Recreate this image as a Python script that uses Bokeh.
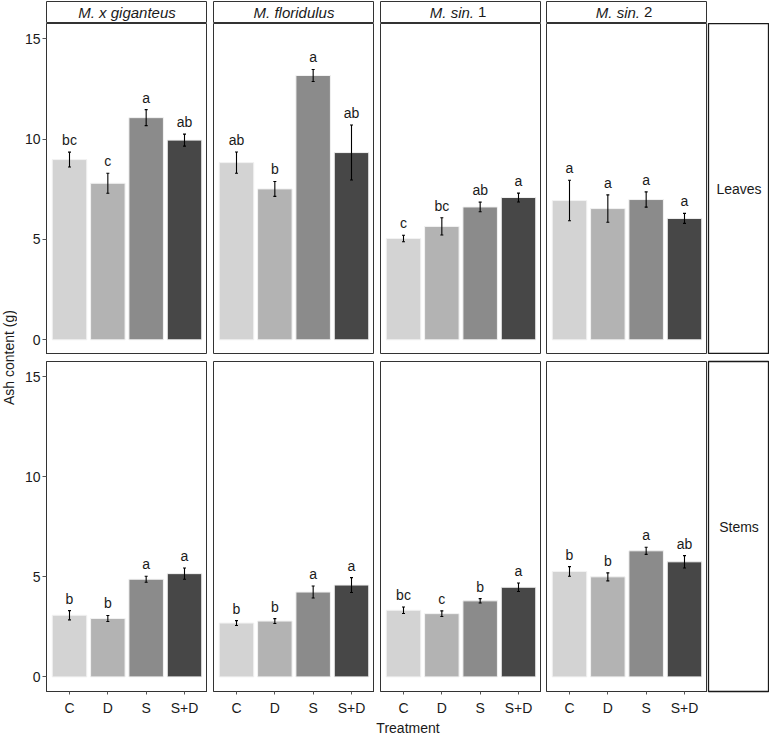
import math
from bokeh.plotting import figure
from bokeh.models import (ColumnDataSource, FactorRange, Range1d, FixedTicker,
                          Whisker, TeeHead, GridBox, Label)
from bokeh.core.properties import value
from bokeh.embed import file_html
from bokeh.resources import INLINE

# ---------------- data ----------------
treatments = ["C", "D", "S", "S+D"]
species = ["M. x giganteus", "M. floridulus", "M. sin. 1", "M. sin. 2"]
organs = ["Leaves", "Stems"]
bar_colors = ["#d3d3d3", "#b3b3b3", "#8b8b8b", "#474747"]
y_ticks = [0, 5, 10, 15]

leaves_mxg = [8.98, 7.80, 11.07, 9.95]
leaves_mxg_se = [0.37, 0.50, 0.40, 0.30]
leaves_mxg_letters = ["bc", "c", "a", "ab"]

leaves_mflor = [8.83, 7.52, 13.17, 9.33]
leaves_mflor_se = [0.53, 0.37, 0.30, 1.37]
leaves_mflor_letters = ["ab", "b", "a", "ab"]

leaves_msin1 = [5.05, 5.65, 6.62, 7.09]
leaves_msin1_se = [0.16, 0.43, 0.24, 0.22]
leaves_msin1_letters = ["c", "bc", "ab", "a"]

leaves_msin2 = [6.94, 6.54, 6.99, 6.05]
leaves_msin2_se = [1.01, 0.68, 0.38, 0.25]
leaves_msin2_letters = ["a", "a", "a", "a"]

stems_mxg = [3.08, 2.92, 4.88, 5.16]
stems_mxg_se = [0.23, 0.15, 0.15, 0.28]
stems_mxg_letters = ["b", "b", "a", "a"]

stems_mflor = [2.69, 2.79, 4.24, 4.59]
stems_mflor_se = [0.12, 0.12, 0.30, 0.37]
stems_mflor_letters = ["b", "b", "a", "a"]

stems_msin1 = [3.33, 3.16, 3.80, 4.48]
stems_msin1_se = [0.16, 0.14, 0.11, 0.21]
stems_msin1_letters = ["bc", "c", "b", "a"]

stems_msin2 = [5.27, 5.00, 6.30, 5.75]
stems_msin2_se = [0.24, 0.20, 0.18, 0.31]
stems_msin2_letters = ["b", "b", "a", "ab"]

panels = [
    [(leaves_mxg, leaves_mxg_se, leaves_mxg_letters),
     (leaves_mflor, leaves_mflor_se, leaves_mflor_letters),
     (leaves_msin1, leaves_msin1_se, leaves_msin1_letters),
     (leaves_msin2, leaves_msin2_se, leaves_msin2_letters)],
    [(stems_mxg, stems_mxg_se, stems_mxg_letters),
     (stems_mflor, stems_mflor_se, stems_mflor_letters),
     (stems_msin1, stems_msin1_se, stems_msin1_letters),
     (stems_msin2, stems_msin2_se, stems_msin2_letters)],
]

# ---------------- styling / layout ----------------
FONT = "Liberation Sans"
TXT = "#1a1a1a"
FS = "14px"
STRIP_FS = "15px"
PANEL_W = 161
GAPS = [29, 6, 6, 5]          # left border of each panel column
TITLE_W = 17
STRIP_W = 61
STRIP_H = 21
PANEL_H = 331
ROW_GAP = 7
BOTTOM_AX = 26
XTITLE_H = 18
Y_RANGE = (-0.73, 15.76)


def blank_fig(width, height, bl=0, bt=0, bb=0):
    p = figure(width=width, height=height, x_range=Range1d(0, 1), y_range=Range1d(0, 1),
               x_axis_location=None, y_axis_location=None, toolbar_location=None,
               tools="", output_backend="svg", title=None,
               min_border_left=bl, min_border_right=0, min_border_top=bt,
               min_border_bottom=bb)
    p.background_fill_color = "white"
    p.border_fill_color = "white"
    p.outline_line_color = None
    p.grid.visible = False
    p.xgrid.grid_line_color = None
    p.ygrid.grid_line_color = None
    return p


def panel_fig(row, col, means, ses, letters):
    is_left = col == 0
    is_bottom = row == 1
    bl = GAPS[col]
    width = bl + PANEL_W
    height = (ROW_GAP + PANEL_H + BOTTOM_AX) if is_bottom else PANEL_H
    p = figure(width=width, height=height,
               x_range=FactorRange(factors=treatments, range_padding=0.1,
                                   range_padding_units="absolute"),
               y_range=Range1d(*Y_RANGE),
               x_axis_location="below" if is_bottom else None,
               y_axis_location="left" if is_left else None,
               toolbar_location=None, tools="", output_backend="svg", title=None,
               min_border_left=bl, min_border_right=0,
               min_border_top=ROW_GAP if is_bottom else 0,
               min_border_bottom=BOTTOM_AX if is_bottom else 0)
    p.background_fill_color = "white"
    p.border_fill_color = "white"
    p.outline_line_color = "#333333"
    p.outline_line_width = 1
    p.xgrid.grid_line_color = None
    p.ygrid.grid_line_color = None

    upper = [m + s for m, s in zip(means, ses)]
    lower = [m - s for m, s in zip(means, ses)]
    src = ColumnDataSource(dict(treatment=treatments, mean=means, upper=upper,
                                lower=lower, letter=letters, color=bar_colors))
    p.vbar(x="treatment", top="mean", bottom=0, width=0.9, source=src,
           fill_color="color", line_color="#f2f2f2", line_width=1)
    w = Whisker(base="treatment", upper="upper", lower="lower", source=src,
                line_color="black", line_width=1.1, level="overlay",
                upper_head=TeeHead(size=3, line_color="black", line_width=1.1),
                lower_head=TeeHead(size=3, line_color="black", line_width=1.1))
    p.add_layout(w)
    p.text(x="treatment", y="upper", text="letter", source=src,
           text_align="center", text_baseline="bottom", y_offset=-4,
           text_font=value(FONT), text_font_size=FS, text_color=TXT)

    if is_left:
        ax = p.yaxis[0]
        ax.ticker = FixedTicker(ticks=y_ticks)
        ax.major_tick_out = 4
        ax.major_tick_in = 0
        ax.minor_tick_out = 0
        ax.minor_tick_in = 0
        ax.major_label_standoff = 2
        ax.axis_line_color = "#333333"
        ax.major_tick_line_color = "#555555"
        ax.major_label_text_font = FONT
        ax.major_label_text_font_size = FS
        ax.major_label_text_color = TXT
    if is_bottom:
        ax = p.xaxis[0]
        ax.major_tick_out = 3
        ax.major_tick_in = 0
        ax.major_label_standoff = 5
        ax.axis_line_color = "#333333"
        ax.major_tick_line_color = "#555555"
        ax.major_label_text_font = FONT
        ax.major_label_text_font_size = FS
        ax.major_label_text_color = TXT
    return p


children = []

# top strips
for c, name in enumerate(species):
    bl = GAPS[c]
    s = blank_fig(bl + PANEL_W, STRIP_H + 2, bl=bl, bt=1, bb=1)
    s.outline_line_color = "#333333"
    s.outline_line_width = 1
    if name.startswith("M. sin."):
        italic_part, plain_part = name.rsplit(" ", 1)
        s.add_layout(Label(x=0.5, y=0.5, x_offset=13, text=italic_part,
                           text_align="right", text_baseline="middle",
                           text_font=FONT, text_font_style="italic",
                           text_font_size=STRIP_FS, text_color=TXT))
        s.add_layout(Label(x=0.5, y=0.5, x_offset=17, text=plain_part,
                           text_align="left", text_baseline="middle",
                           text_font=FONT, text_font_size=STRIP_FS, text_color=TXT))
    else:
        s.add_layout(Label(x=0.5, y=0.5, text=name, text_align="center",
                           text_baseline="middle", text_font=FONT,
                           text_font_style="italic", text_font_size=STRIP_FS,
                           text_color=TXT))
    children.append((s, 0, c + 1))

# panels
for r in range(2):
    for c in range(4):
        m, se, let = panels[r][c]
        children.append((panel_fig(r, c, m, se, let), r + 1, c + 1))

# row strips
for r, organ in enumerate(organs):
    if r == 0:
        s = blank_fig(STRIP_W + 1, PANEL_H, bl=1)
    else:
        s = blank_fig(STRIP_W + 1, ROW_GAP + PANEL_H + BOTTOM_AX, bl=1,
                      bt=ROW_GAP, bb=BOTTOM_AX)
    s.outline_line_color = "#1a1a1a"
    s.outline_line_width = 1.3
    s.add_layout(Label(x=0.5, y=0.5, text=organ, text_align="center",
                       text_baseline="middle", text_font=FONT,
                       text_font_size=FS, text_color=TXT))
    children.append((s, r + 1, 5))

# y-axis title
yt = blank_fig(TITLE_W, PANEL_H + ROW_GAP + PANEL_H + BOTTOM_AX, bb=BOTTOM_AX)
yt.add_layout(Label(x=0.5, y=0.5, angle=math.pi / 2, text="Ash content (g)",
                    text_align="center", text_baseline="middle", text_font=FONT,
                    text_font_size=FS, text_color=TXT))
children.append((yt, 1, 0, 2, 1))

# x-axis title
xt_w = sum(GAPS) + 4 * PANEL_W + STRIP_W + 1
xt = blank_fig(xt_w, XTITLE_H, bl=GAPS[0])
xt.add_layout(Label(x=0.5, y=0.5, text="Treatment", text_align="center",
                    text_baseline="middle", text_font=FONT, text_font_size=FS,
                    text_color=TXT))
children.append((xt, 3, 1, 1, 5))

grid = GridBox(children=children, spacing=0)

open("out.html", "w").write(file_html(grid, INLINE))
